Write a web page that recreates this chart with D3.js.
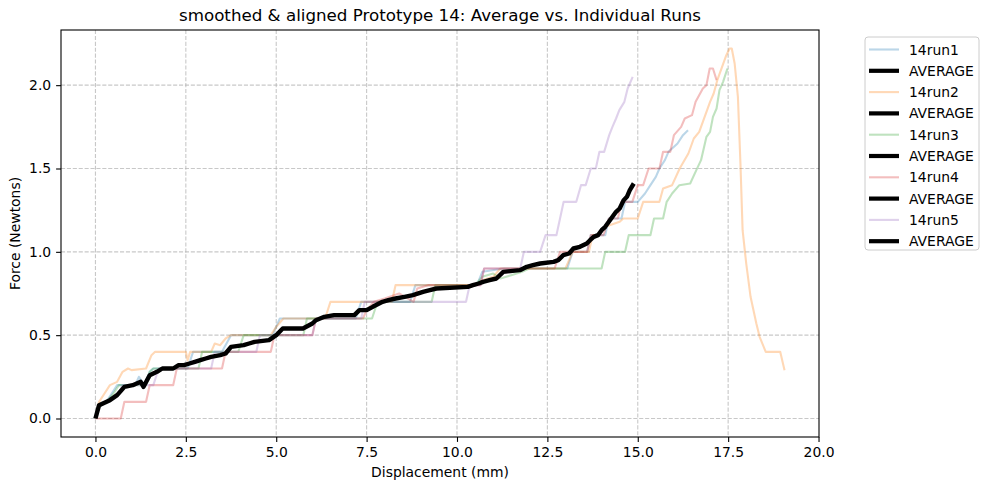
<!DOCTYPE html>
<html>
<head>
<meta charset="utf-8">
<script src="https://cdn.jsdelivr.net/npm/d3@7"></script>
<style>
  body { margin: 0; background: #fff; }
  svg { font-family: "DejaVu Sans", sans-serif; }
</style>
</head>
<body>
<div class="chart"></div>
<script>
// data (displacement mm, force N)
var run1 = [[0,0],[0.1,0.07],[0.3,0.1],[0.45,0.15],[0.6,0.2],[1.1,0.2],[1.2,0.25],[1.35,0.2],[1.5,0.28],[1.6,0.3],[2.55,0.3],[2.7,0.4],[3.5,0.4],[3.75,0.5],[4.9,0.5],[5.1,0.6],[7.2,0.6],[7.35,0.7],[8.7,0.7],[8.85,0.8],[10.55,0.8],[10.7,0.88],[11.3,0.9],[13.05,0.9],[13.2,1.0],[13.6,1.0],[13.7,1.1],[14.1,1.1],[14.2,1.2],[14.55,1.2],[14.65,1.3],[15.0,1.3],[15.2,1.35],[15.35,1.4],[15.5,1.45],[15.6,1.5],[15.75,1.55],[15.85,1.6],[16.1,1.65],[16.25,1.7],[16.39,1.73]];
var run2 = [[0,0],[0.1,0.1],[0.25,0.15],[0.4,0.2],[0.6,0.22],[0.75,0.28],[0.9,0.3],[1.0,0.29],[1.4,0.3],[1.55,0.38],[1.65,0.4],[2.5,0.4],[2.55,0.35],[2.62,0.4],[3.2,0.4],[3.3,0.45],[3.45,0.44],[3.6,0.48],[3.75,0.5],[4.85,0.5],[5.0,0.55],[5.2,0.6],[6.35,0.6],[6.5,0.7],[8.2,0.7],[8.3,0.8],[10.5,0.8],[10.7,0.83],[11.0,0.85],[11.2,0.9],[13.0,0.9],[13.2,1.0],[13.65,1.0],[13.75,1.1],[13.9,1.1],[14.1,1.15],[14.5,1.18],[14.6,1.2],[15.0,1.2],[15.15,1.3],[15.6,1.3],[15.7,1.38],[15.95,1.4],[16.16,1.5],[16.4,1.59],[16.55,1.68],[16.7,1.72],[16.85,1.81],[17.0,1.9],[17.1,1.95],[17.2,2.03],[17.35,2.12],[17.45,2.18],[17.54,2.22],[17.6,2.22],[17.68,2.13],[17.77,1.93],[17.84,1.53],[17.9,1.13],[18.0,0.93],[18.12,0.73],[18.28,0.57],[18.37,0.49],[18.54,0.4],[18.94,0.4],[19.06,0.29]];
var run3 = [[0,0],[0.1,0.07],[0.3,0.1],[0.5,0.15],[0.65,0.2],[1.4,0.2],[1.5,0.28],[1.6,0.3],[2.85,0.3],[2.95,0.4],[3.95,0.4],[4.1,0.5],[5.75,0.5],[5.85,0.6],[7.65,0.6],[7.8,0.7],[9.3,0.7],[9.4,0.8],[10.5,0.8],[10.7,0.85],[11.0,0.87],[11.2,0.84],[11.5,0.86],[11.8,0.88],[12.0,0.9],[14.0,0.9],[14.1,1.0],[14.65,1.0],[14.75,1.1],[15.35,1.1],[15.45,1.2],[15.7,1.2],[15.8,1.3],[15.95,1.35],[16.15,1.4],[16.45,1.41],[16.62,1.49],[16.75,1.55],[16.9,1.69],[17.0,1.72],[17.08,1.81],[17.18,1.86],[17.26,1.97],[17.36,2.02],[17.48,2.1]];
var run4 = [[0,0],[0.7,0],[0.8,0.1],[1.4,0.1],[1.5,0.2],[2.15,0.2],[2.25,0.3],[3.5,0.3],[3.6,0.4],[4.85,0.4],[4.95,0.5],[6.0,0.5],[6.1,0.6],[7.4,0.6],[7.5,0.65],[7.7,0.7],[8.0,0.72],[8.4,0.75],[8.8,0.7],[8.9,0.78],[9.2,0.8],[10.65,0.8],[10.75,0.9],[12.7,0.9],[12.85,1.0],[13.6,1.0],[13.7,1.1],[14.05,1.1],[14.2,1.2],[14.45,1.2],[14.55,1.3],[14.85,1.3],[15.0,1.4],[15.15,1.4],[15.3,1.5],[15.6,1.5],[15.7,1.6],[15.9,1.6],[16.0,1.7],[16.2,1.75],[16.3,1.8],[16.5,1.82],[16.6,1.9],[16.8,1.98],[16.9,2.0],[16.99,2.1],[17.08,2.1],[17.18,2.03]];
var run5 = [[0,0],[0.1,0.07],[0.3,0.1],[0.5,0.12],[0.65,0.15],[0.75,0.2],[1.6,0.2],[1.75,0.3],[3.2,0.3],[3.3,0.4],[4.45,0.4],[4.55,0.5],[6.0,0.5],[6.1,0.6],[7.35,0.6],[7.45,0.7],[10.25,0.7],[10.35,0.8],[10.65,0.8],[10.75,0.9],[11.75,0.9],[11.85,1.0],[12.3,1.0],[12.45,1.1],[12.75,1.1],[12.85,1.2],[12.95,1.3],[13.3,1.3],[13.43,1.4],[13.56,1.4],[13.7,1.5],[13.84,1.5],[13.94,1.6],[14.07,1.6],[14.21,1.7],[14.3,1.75],[14.4,1.8],[14.49,1.85],[14.63,1.9],[14.72,1.98],[14.86,2.05]];
var average = [[0,0],[0.1,0.08],[0.4,0.11],[0.6,0.14],[0.8,0.19],[1.03,0.2],[1.25,0.22],[1.33,0.19],[1.5,0.26],[1.7,0.28],[1.85,0.3],[2.15,0.3],[2.3,0.32],[2.45,0.32],[2.6,0.33],[2.75,0.34],[2.9,0.35],[3.05,0.36],[3.2,0.37],[3.45,0.38],[3.6,0.39],[3.75,0.43],[4.1,0.44],[4.25,0.45],[4.4,0.46],[4.8,0.47],[5.0,0.5],[5.18,0.54],[5.74,0.54],[6.0,0.57],[6.1,0.59],[6.33,0.61],[6.6,0.62],[7.16,0.62],[7.3,0.65],[7.5,0.65],[7.67,0.67],[7.94,0.7],[8.1,0.71],[8.3,0.72],[8.55,0.73],[8.78,0.74],[9.06,0.76],[9.25,0.77],[9.43,0.78],[10.3,0.79],[10.44,0.8],[10.6,0.81],[10.72,0.82],[10.9,0.83],[11.09,0.84],[11.28,0.88],[11.74,0.89],[11.93,0.91],[12.1,0.92],[12.3,0.93],[12.67,0.94],[12.8,0.95],[12.94,0.98],[13.1,0.99],[13.22,1.02],[13.4,1.03],[13.59,1.05],[13.68,1.07],[13.78,1.09],[13.9,1.1],[14.0,1.13],[14.1,1.15],[14.2,1.18],[14.3,1.21],[14.4,1.24],[14.5,1.26],[14.61,1.31],[14.7,1.33],[14.78,1.37],[14.89,1.41]];

var runNames = ["14run1", "14run2", "14run3", "14run4", "14run5"];
var runColors = ["#1f77b4", "#ff7f0e", "#2ca02c", "#d62728", "#9467bd"];
var xTicks = [0, 2.5, 5, 7.5, 10, 12.5, 15, 17.5, 20];
var yTicks = [0, 0.5, 1.0, 1.5, 2.0];

var runs = [run1, run2, run3, run4, run5];

var svgWidth = 989;
var svgHeight = 490;
var margin = { top: 30, right: 170, bottom: 53, left: 61 };
var width = svgWidth - margin.left - margin.right;   // 758
var height = svgHeight - margin.top - margin.bottom; // 407

var svg = d3.select(".chart")
  .append("svg")
  .attr("width", svgWidth)
  .attr("height", svgHeight);

var chartGroup = svg.append("g")
  .attr("transform", `translate(${margin.left}, ${margin.top})`);

// matplotlib style 5% margins around the data
var allPts = runs.concat([average]).flat();
var xMin = d3.min(allPts, d => d[0]), xMax = d3.max(allPts, d => d[0]);
var yMin = d3.min(allPts, d => d[1]), yMax = d3.max(allPts, d => d[1]);
var xPad = (xMax - xMin) * 0.05, yPad = (yMax - yMin) * 0.05;

var xScale = d3.scaleLinear().domain([xMin - xPad, xMax + xPad]).range([0, width]);
var yScale = d3.scaleLinear().domain([yMin - yPad, yMax + yPad]).range([height, 0]);

// grid
var gridColor = "#b0b0b0";
chartGroup.append("g").selectAll("line")
  .data(xTicks.filter(t => xScale(t) > 0.5 && xScale(t) < width - 0.5))
  .enter().append("line")
  .attr("x1", d => xScale(d)).attr("x2", d => xScale(d))
  .attr("y1", 0).attr("y2", height)
  .attr("stroke", gridColor).attr("stroke-opacity", 0.7)
  .attr("stroke-width", 1.1).attr("stroke-dasharray", "4.1,1.8");
chartGroup.append("g").selectAll("line")
  .data(yTicks)
  .enter().append("line")
  .attr("x1", 0).attr("x2", width)
  .attr("y1", d => yScale(d)).attr("y2", d => yScale(d))
  .attr("stroke", gridColor).attr("stroke-opacity", 0.7)
  .attr("stroke-width", 1.1).attr("stroke-dasharray", "4.1,1.8");

svg.append("defs").append("clipPath").attr("id", "clip")
  .append("rect").attr("width", width).attr("height", height);

var line = d3.line().x(d => xScale(d[0])).y(d => yScale(d[1]));
var plot = chartGroup.append("g").attr("clip-path", "url(#clip)");

runs.forEach(function(r, i) {
  plot.append("path")
    .datum(r)
    .attr("d", line)
    .attr("fill", "none")
    .attr("stroke", runColors[i])
    .attr("stroke-opacity", 0.3)
    .attr("stroke-width", 2.1)
    .attr("stroke-linejoin", "round");
});
plot.append("path")
  .datum(average)
  .attr("d", line)
  .attr("fill", "none")
  .attr("stroke", "#000")
  .attr("stroke-width", 4.4)
  .attr("stroke-linejoin", "round");

// axes
var xAxis = d3.axisBottom(xScale).tickValues(xTicks).tickFormat(d3.format(".1f")).tickSizeOuter(0).tickSize(4.9).tickPadding(4.9);
var yAxis = d3.axisLeft(yScale).tickValues(yTicks).tickFormat(d3.format(".1f")).tickSizeOuter(0).tickSize(4.9).tickPadding(4.9);

var gx = chartGroup.append("g").attr("transform", `translate(0, ${height})`).call(xAxis);
var gy = chartGroup.append("g").call(yAxis);
[gx, gy].forEach(function(g) {
  g.select(".domain").remove();
  g.selectAll(".tick line").attr("stroke", "#000").attr("stroke-width", 1.1);
  g.selectAll(".tick text").attr("fill", "#000").style("font-size", "13.9px").style("font-family", "DejaVu Sans");
});

chartGroup.append("rect")
  .attr("width", width).attr("height", height)
  .attr("fill", "none").attr("stroke", "#000").attr("stroke-width", 1.1);

// labels
svg.append("text")
  .attr("x", margin.left + width / 2).attr("y", 21)
  .attr("text-anchor", "middle")
  .style("font-size", "16.7px")
  .text("smoothed & aligned Prototype 14: Average vs. Individual Runs");

svg.append("text")
  .attr("x", margin.left + width / 2).attr("y", 477)
  .attr("text-anchor", "middle")
  .style("font-size", "13.9px")
  .text("Displacement (mm)");

svg.append("text")
  .attr("transform", `translate(20, ${margin.top + height / 2}) rotate(-90)`)
  .attr("text-anchor", "middle")
  .style("font-size", "13.9px")
  .text("Force (Newtons)");

// legend: each run followed by an AVERAGE entry
var legendItems = [];
runNames.forEach(function(n, i) {
  legendItems.push({ label: n, color: runColors[i], opacity: 0.3, w: 2.1 });
  legendItems.push({ label: "AVERAGE", color: "#000", opacity: 1, w: 4.2 });
});

var legend = svg.append("g").attr("transform", "translate(865, 37)");
legend.append("rect")
  .attr("width", 114).attr("height", 213)
  .attr("rx", 3).attr("fill", "#fff").attr("fill-opacity", 0.8)
  .attr("stroke", "#cccccc").attr("stroke-width", 1);

var rows = legend.selectAll(".row")
  .data(legendItems)
  .enter().append("g")
  .attr("transform", (d, i) => `translate(0, ${12.5 + i * 21.3})`);
rows.append("line")
  .attr("x1", 4).attr("x2", 34)
  .attr("stroke", d => d.color)
  .attr("stroke-opacity", d => d.opacity)
  .attr("stroke-width", d => d.w);
rows.append("text")
  .attr("x", 44).attr("y", 5)
  .style("font-size", "13.9px")
  .text(d => d.label);
</script>
</body>
</html>
